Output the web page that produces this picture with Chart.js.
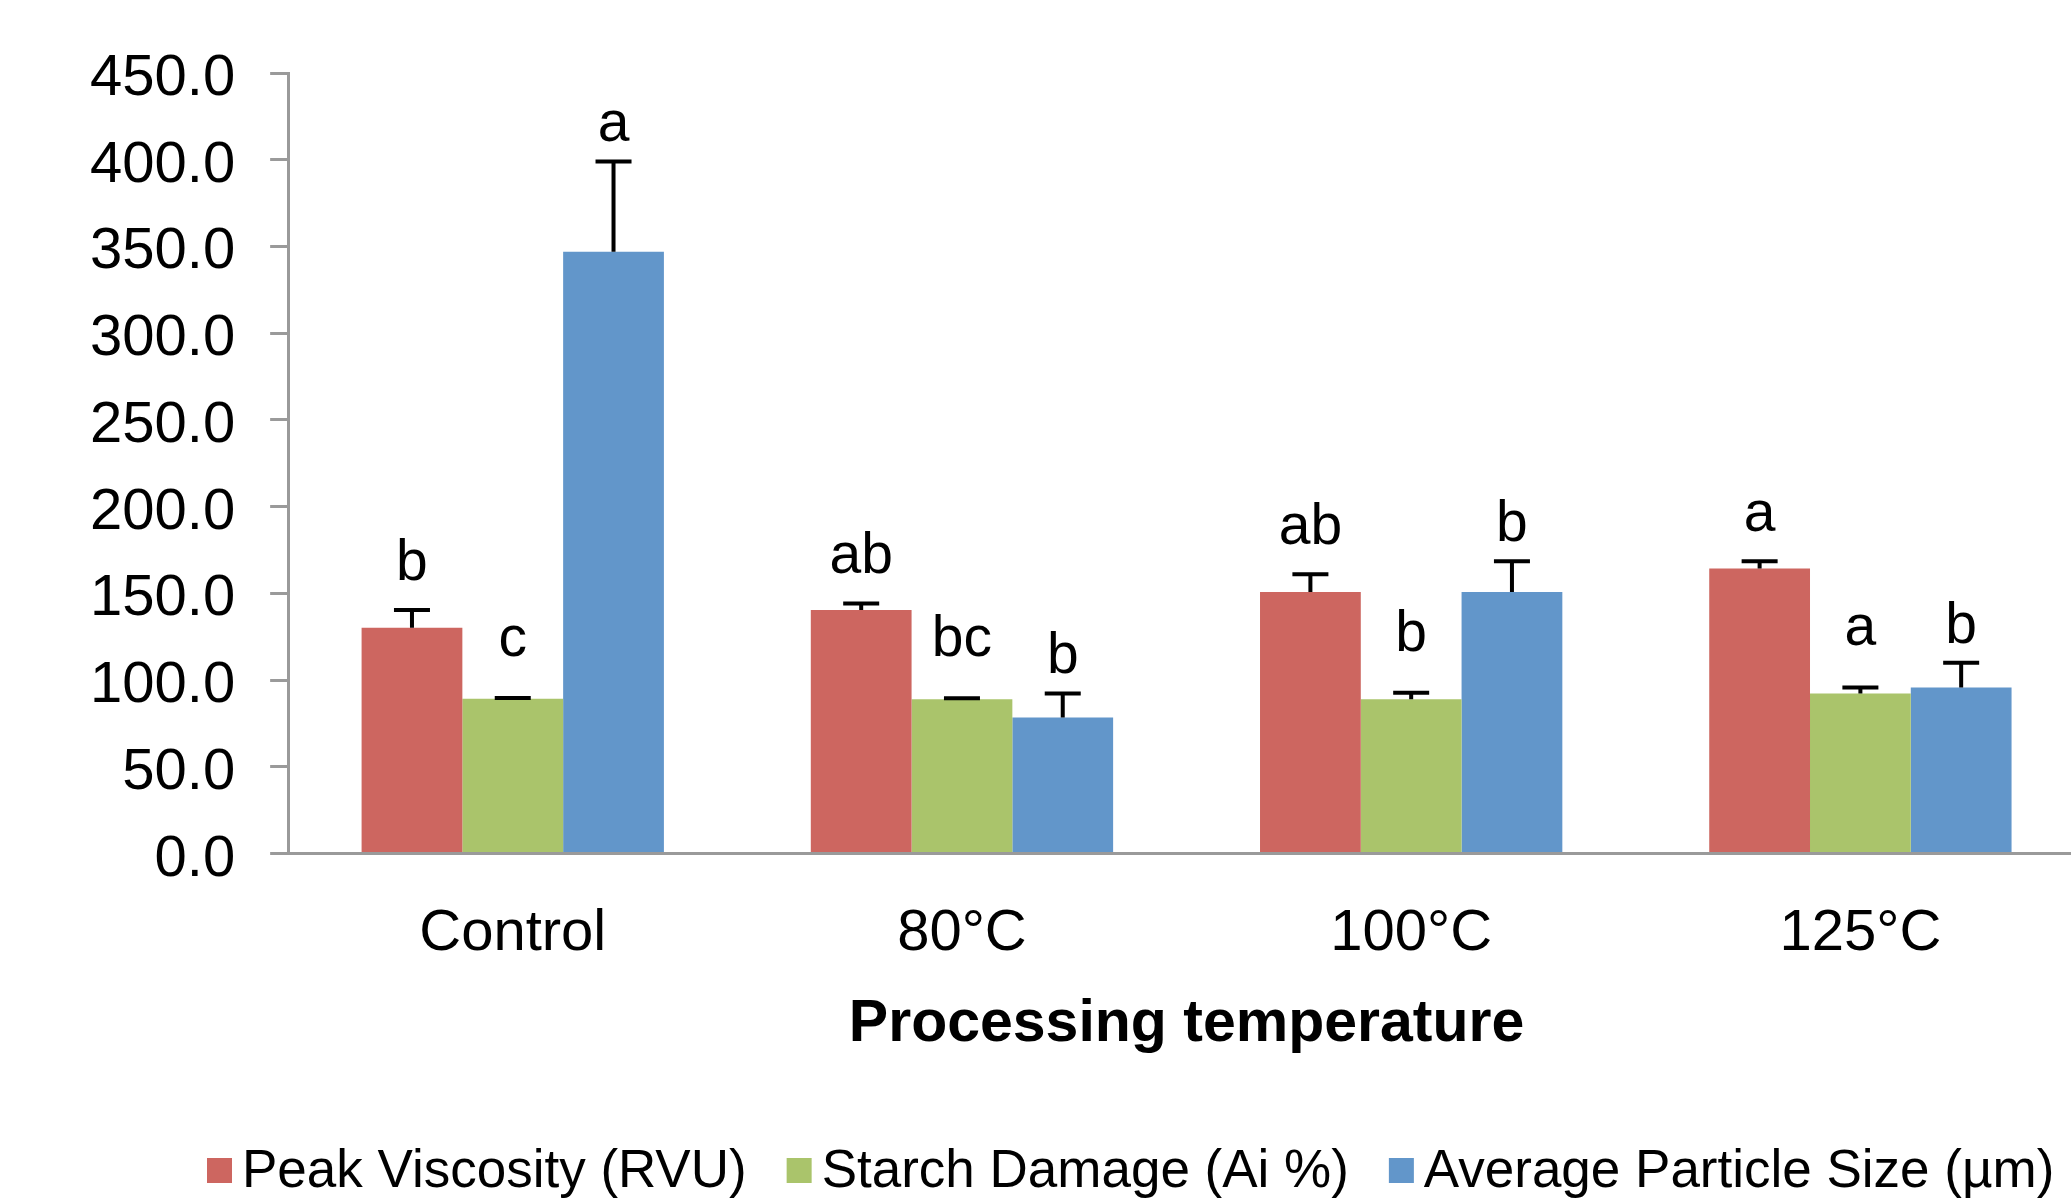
<!DOCTYPE html>
<html>
<head>
<meta charset="utf-8">
<script src="https://cdn.jsdelivr.net/npm/chart.js@4.4.0/dist/chart.umd.min.js"></script>
<style>
  html, body { margin: 0; padding: 0; background: #fff; overflow: hidden; }
  #wrap { width: 2088px; height: 1198px; }
</style>
</head>
<body>
<div id="wrap"><canvas id="chart" width="2088" height="1198"></canvas></div>
<script>
// values
const categories = ['Control', '80°C', '100°C', '125°C'];
const seriesNames = ['Peak Viscosity (RVU)', 'Starch Damage (Ai %)', 'Average Particle Size (µm)'];

const peakViscosity = [130.2, 140.4, 150.8, 164.4];
const peakViscosityErr = [10.2, 3.8, 10.2, 4.2];
const peakViscositySig = ['b', 'ab', 'ab', 'a'];

const starchDamage = [89.2, 89.0, 89.0, 92.3];
const starchDamageErr = [0.5, 0.5, 3.7, 3.5];
const starchDamageSig = ['c', 'bc', 'b', 'a'];

const particleSize = [347.0, 78.5, 150.8, 95.8];
const particleSizeErr = [52.0, 13.8, 17.8, 14.2];
const particleSizeSig = ['a', 'b', 'b', 'b'];

const yTicks = [0, 50, 100, 150, 200, 250, 300, 350, 400, 450];

const FONT = '"Liberation Sans", Arial, sans-serif';
const axisGrey = '#9a9a9a';

// error bars (upper half only) and significance letters
const errorBars = {
  id: 'errorBars',
  afterDatasetsDraw(chart) {
    const ctx = chart.ctx;
    const y = chart.scales.y;
    ctx.save();
    chart.data.datasets.forEach((ds, i) => {
      const meta = chart.getDatasetMeta(i);
      meta.data.forEach((bar, j) => {
        const top = y.getPixelForValue(ds.data[j] + ds.errors[j]);
        ctx.strokeStyle = '#000';
        ctx.lineWidth = 4;
        ctx.beginPath();
        ctx.moveTo(bar.x, bar.y);
        ctx.lineTo(bar.x, top);
        ctx.moveTo(bar.x - 18, top);
        ctx.lineTo(bar.x + 18, top);
        ctx.stroke();
        ctx.fillStyle = '#000';
        ctx.font = '57px ' + FONT;
        ctx.textAlign = 'center';
        ctx.textBaseline = 'alphabetic';
        ctx.fillText(ds.sig[j], bar.x, top - ds.labelGap);
      });
    });
    ctx.restore();
  }
};

// legend drawn at the bottom, same row as original
const bottomLegend = {
  id: 'bottomLegend',
  afterDraw(chart) {
    const ctx = chart.ctx;
    ctx.save();
    ctx.font = '53px ' + FONT;
    ctx.textBaseline = 'middle';
    ctx.textAlign = 'left';
    let x = 207;
    const yMid = 1172;
    chart.data.datasets.forEach(ds => {
      ctx.fillStyle = ds.backgroundColor;
      ctx.fillRect(x, yMid - 14, 25, 25);
      ctx.fillStyle = '#000';
      ctx.fillText(ds.label, x + 35, yMid);
      x += 35 + ctx.measureText(ds.label).width + 40;
    });
    ctx.restore();
  }
};

new Chart(document.getElementById('chart'), {
  type: 'bar',
  data: {
    labels: categories,
    datasets: [
      { label: seriesNames[0], data: peakViscosity, errors: peakViscosityErr, sig: peakViscositySig,
        labelGap: 30, backgroundColor: '#CD6660' },
      { label: seriesNames[1], data: starchDamage, errors: starchDamageErr, sig: starchDamageSig,
        labelGap: 42, backgroundColor: '#AAC46B' },
      { label: seriesNames[2], data: particleSize, errors: particleSizeErr, sig: particleSizeSig,
        labelGap: 20, backgroundColor: '#6296CA' }
    ]
  },
  options: {
    responsive: false,
    animation: false,
    devicePixelRatio: 1,
    datasets: { bar: { categoryPercentage: 0.673, barPercentage: 1.0, borderWidth: 0 } },
    layout: { padding: { left: 55, top: 73, right: 3, bottom: 138 } },
    plugins: {
      legend: { display: false },
      tooltip: { enabled: false }
    },
    scales: {
      x: {
        grid: { display: false },
        border: { display: true, color: axisGrey, width: 3 },
        ticks: { color: '#000', font: { family: FONT, size: 58 }, padding: 38 },
        title: {
          display: true, text: 'Processing temperature', color: '#000',
          font: { family: FONT, size: 59, weight: 'bold' },
          padding: { top: -18, bottom: 0 }
        }
      },
      y: {
        min: 0, max: 450,
        afterBuildTicks(axis) { axis.ticks = yTicks.map(v => ({ value: v })); },
        grid: { drawOnChartArea: false, drawTicks: true, tickLength: 18, color: axisGrey, lineWidth: 3 },
        border: { display: true, color: axisGrey, width: 3 },
        ticks: {
          color: '#000', font: { family: FONT, size: 58 }, padding: 35, labelOffset: 6,
          callback: v => v.toFixed(1)
        }
      }
    }
  },
  plugins: [errorBars, bottomLegend]
});
</script>
</body>
</html>
